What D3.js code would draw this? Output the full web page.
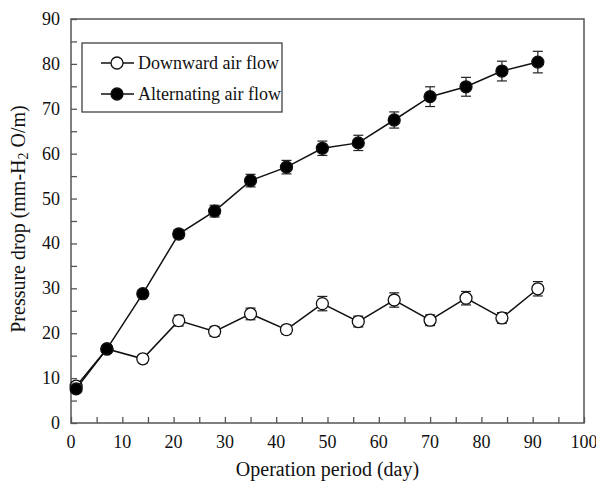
<!DOCTYPE html>
<html>
<head>
<meta charset="utf-8">
<script src="https://cdn.jsdelivr.net/npm/d3@7"></script>
<style>
  body { margin: 0; background: #fff; }
  text { font-family: "Liberation Serif", "DejaVu Serif", serif; fill: #111; }
</style>
</head>
<body>
<div id="main"></div>
<script>
// data
const days = [1, 7, 14, 21, 28, 35, 42, 49, 56, 63, 70, 77, 84, 91]
const downward = [8.2, 16.5, 14.3, 22.8, 20.4, 24.3, 20.8, 26.6, 22.6, 27.4, 22.9, 27.8, 23.4, 29.9]
const downwardErr = [1.0, 0.8, 0.9, 1.2, 1.1, 1.3, 1.0, 1.6, 1.2, 1.6, 1.2, 1.5, 1.2, 1.6]
const alternating = [7.6, 16.5, 28.8, 42.1, 47.2, 54.0, 57.0, 61.2, 62.4, 67.5, 72.7, 74.9, 78.4, 80.4]
const alternatingErr = [0.5, 0.6, 0.8, 1.0, 1.3, 1.4, 1.5, 1.6, 1.7, 1.8, 2.2, 2.1, 2.2, 2.4]
const xTicks = d3.range(0, 101, 10)
const yTicks = d3.range(0, 91, 10)
const seriesNames = ["Downward air flow", "Alternating air flow"]

const width = 596, height = 482
const margin = { top: 19, right: 12, bottom: 59, left: 71 }
const axisColor = "#555"

const svg = d3.select("#main").append("svg")
  .attr("width", width)
  .attr("height", height)

const x = d3.scaleLinear().domain([0, 100]).range([margin.left, width - margin.right])
const y = d3.scaleLinear().domain([0, 90]).range([height - margin.bottom, margin.top])

// frame
svg.append("rect")
  .attr("x", x(0)).attr("y", y(90))
  .attr("width", x(100) - x(0)).attr("height", y(0) - y(90))
  .attr("fill", "none").attr("stroke", axisColor).attr("stroke-width", 1.5)

// inward ticks, major + minor
svg.append("g")
  .attr("transform", `translate(0,${y(0)})`)
  .call(d3.axisBottom(x).tickValues(d3.range(0, 101, 5)).tickSize(-6).tickFormat(""))
svg.append("g")
  .attr("transform", `translate(${x(0)},0)`)
  .call(d3.axisLeft(y).tickValues(d3.range(0, 91, 5)).tickSize(-6).tickFormat(""))
svg.selectAll(".domain").remove()
svg.selectAll(".tick line").attr("stroke", axisColor).attr("stroke-width", 1.3)

// tick labels
svg.append("g").selectAll("text")
  .data(xTicks).join("text")
  .attr("x", d => x(d)).attr("y", y(0) + 25)
  .attr("text-anchor", "middle")
  .attr("font-size", 18)
  .text(d => d)
svg.append("g").selectAll("text")
  .data(yTicks).join("text")
  .attr("x", x(0) - 11).attr("y", d => y(d) + 6)
  .attr("text-anchor", "end")
  .attr("font-size", 18)
  .text(d => d)

// axis titles
svg.append("text")
  .attr("x", (x(0) + x(100)) / 2).attr("y", 476)
  .attr("text-anchor", "middle")
  .attr("font-size", 20)
  .text("Operation period (day)")

const yt = svg.append("text")
  .attr("transform", `translate(25,${(y(0) + y(90)) / 2 - 2}) rotate(-90)`)
  .attr("text-anchor", "middle")
  .attr("font-size", 20)
yt.append("tspan").text("Pressure drop (mm-H")
yt.append("tspan").attr("font-size", 14).attr("dy", 3).text("2")
yt.append("tspan").attr("dy", -3).text(" O/m)")

const line = d3.line().x(d => x(d[0])).y(d => y(d[1]))

function drawSeries(vals, errs, filled) {
  const pts = days.map((d, i) => [d, vals[i], errs[i]])
  const g = svg.append("g")
  g.append("path")
    .datum(pts)
    .attr("d", line)
    .attr("fill", "none").attr("stroke", "#111").attr("stroke-width", 1.5)
  const eb = g.selectAll(".eb").data(pts).join("g")
  eb.append("line")
    .attr("x1", d => x(d[0])).attr("x2", d => x(d[0]))
    .attr("y1", d => y(d[1] - d[2])).attr("y2", d => y(d[1] + d[2]))
    .attr("stroke", "#222").attr("stroke-width", 1.2)
  ;[-1, 1].forEach(s => {
    eb.append("line")
      .attr("x1", d => x(d[0]) - 5).attr("x2", d => x(d[0]) + 5)
      .attr("y1", d => y(d[1] + s * d[2])).attr("y2", d => y(d[1] + s * d[2]))
      .attr("stroke", "#222").attr("stroke-width", 1.2)
  })
  g.selectAll("circle").data(pts).join("circle")
    .attr("cx", d => x(d[0])).attr("cy", d => y(d[1]))
    .attr("r", 6)
    .attr("fill", filled ? "#000" : "#fff")
    .attr("stroke", "#111").attr("stroke-width", 1.3)
}

drawSeries(downward, downwardErr, false)
drawSeries(alternating, alternatingErr, true)

// legend
const lg = svg.append("g")
lg.append("rect")
  .attr("x", 82).attr("y", 43).attr("width", 200).attr("height", 69)
  .attr("fill", "#fff").attr("stroke", "#333").attr("stroke-width", 1.2)
seriesNames.forEach((name, i) => {
  const cy = 63 + i * 31
  lg.append("line")
    .attr("x1", 101).attr("x2", 134).attr("y1", cy).attr("y2", cy)
    .attr("stroke", "#111").attr("stroke-width", 1.5)
  lg.append("circle")
    .attr("cx", 117).attr("cy", cy).attr("r", 6)
    .attr("fill", i === 0 ? "#fff" : "#000")
    .attr("stroke", "#111").attr("stroke-width", 1.3)
  lg.append("text")
    .attr("x", 138).attr("y", cy + 6)
    .attr("font-size", 18)
    .text(name)
})
</script>
</body>
</html>
